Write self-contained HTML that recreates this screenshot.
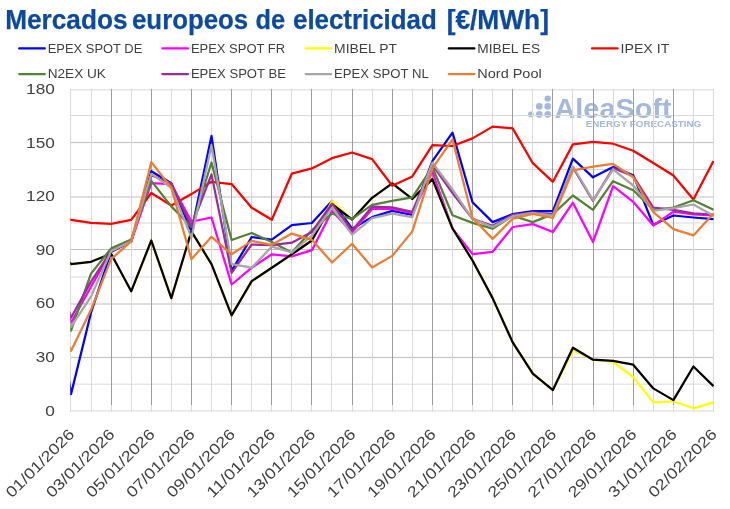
<!DOCTYPE html>
<html lang="es"><head><meta charset="utf-8"><title>Mercados europeos de electricidad</title>
<style>html,body{margin:0;padding:0;background:#fff}body{width:730px;height:509px;overflow:hidden}svg{display:block}text{font-family:"Liberation Sans",sans-serif}</style></head><body>
<svg width="730" height="509" viewBox="0 0 730 509">
<rect width="730" height="509" fill="#fff"/>
<g id="title" font-size="27.2" font-weight="bold" fill="#0c4aa0" stroke="#0c4aa0" stroke-width="0.25">
<text x="5.15" y="28.8" textLength="122.37" lengthAdjust="spacingAndGlyphs">Mercados</text>
<text x="132.02" y="28.8" textLength="116.18" lengthAdjust="spacingAndGlyphs">europeos</text>
<text x="255.43" y="28.8" textLength="29.62" lengthAdjust="spacingAndGlyphs">de</text>
<text x="293.02" y="28.8" textLength="143.8" lengthAdjust="spacingAndGlyphs">electricidad</text>
<text x="446.64" y="28.8" textLength="102.35" lengthAdjust="spacingAndGlyphs">[€/MWh]</text>
</g>
<g id="wm" fill="#a3b8da">
<circle cx="547.7" cy="98.6" r="3.2"/>
<circle cx="539.3" cy="106.4" r="3.3"/>
<circle cx="547.7" cy="106.4" r="3.3"/>
<circle cx="530.9" cy="114.4" r="2.9"/>
<circle cx="539.3" cy="114.4" r="3.3"/>
<circle cx="547.7" cy="114.4" r="3.3"/>
<text id="wm1" x="554.5" y="117.8" font-size="27.4" font-weight="bold" textLength="117" lengthAdjust="spacingAndGlyphs">AleaSoft</text>
<text id="wm2" x="585.7" y="127.3" font-size="9" font-weight="bold" textLength="115.6" lengthAdjust="spacingAndGlyphs">ENERGY FORECASTING</text>
</g>
<g id="grid" stroke-width="1"><line x1="70.0" x2="714.0" y1="410.95" y2="410.95" stroke="#d9d9d9"/><line x1="70.0" x2="714.0" y1="384.16" y2="384.16" stroke="#d9d9d9"/><line x1="70.0" x2="714.0" y1="357.4" y2="357.4" stroke="#bcbcbc"/><line x1="70.0" x2="714.0" y1="330.57" y2="330.57" stroke="#d9d9d9"/><line x1="70.0" x2="714.0" y1="304.0" y2="304.0" stroke="#bcbcbc"/><line x1="70.0" x2="714.0" y1="276.98" y2="276.98" stroke="#d9d9d9"/><line x1="70.0" x2="714.0" y1="249.5" y2="249.5" stroke="#bcbcbc"/><line x1="70.0" x2="714.0" y1="223.0" y2="223.0" stroke="#d9d9d9"/><line x1="70.0" x2="714.0" y1="197.0" y2="197.0" stroke="#bcbcbc"/><line x1="70.0" x2="714.0" y1="169.5" y2="169.5" stroke="#d9d9d9"/><line x1="70.0" x2="714.0" y1="142.6" y2="142.6" stroke="#bcbcbc"/><line x1="70.0" x2="714.0" y1="115.5" y2="115.5" stroke="#d9d9d9"/><line x1="70.0" x2="714.0" y1="89.85" y2="89.85" stroke="#d9d9d9"/><line x1="70.5" x2="70.5" y1="88.92" y2="411.45" stroke="#d9d9d9"/><line x1="91.5" x2="91.5" y1="88.92" y2="411.45" stroke="#d9d9d9"/><line x1="111.5" x2="111.5" y1="88.92" y2="405" stroke="#9c9c9c"/><line x1="111.5" x2="111.5" y1="405" y2="411.45" stroke="#d9d9d9"/><line x1="131.5" x2="131.5" y1="88.92" y2="411.45" stroke="#d9d9d9"/><line x1="151.5" x2="151.5" y1="88.92" y2="405" stroke="#9c9c9c"/><line x1="151.5" x2="151.5" y1="405" y2="411.45" stroke="#d9d9d9"/><line x1="171.5" x2="171.5" y1="88.92" y2="411.45" stroke="#d9d9d9"/><line x1="191.5" x2="191.5" y1="88.92" y2="405" stroke="#9c9c9c"/><line x1="191.5" x2="191.5" y1="405" y2="411.45" stroke="#d9d9d9"/><line x1="211.5" x2="211.5" y1="88.92" y2="411.45" stroke="#d9d9d9"/><line x1="231.5" x2="231.5" y1="88.92" y2="405" stroke="#9c9c9c"/><line x1="231.5" x2="231.5" y1="405" y2="411.45" stroke="#d9d9d9"/><line x1="251.5" x2="251.5" y1="88.92" y2="411.45" stroke="#d9d9d9"/><line x1="271.5" x2="271.5" y1="88.92" y2="405" stroke="#9c9c9c"/><line x1="271.5" x2="271.5" y1="405" y2="411.45" stroke="#d9d9d9"/><line x1="291.5" x2="291.5" y1="88.92" y2="411.45" stroke="#d9d9d9"/><line x1="311.5" x2="311.5" y1="88.92" y2="405" stroke="#9c9c9c"/><line x1="311.5" x2="311.5" y1="405" y2="411.45" stroke="#d9d9d9"/><line x1="331.5" x2="331.5" y1="88.92" y2="411.45" stroke="#d9d9d9"/><line x1="352.5" x2="352.5" y1="88.92" y2="405" stroke="#9c9c9c"/><line x1="352.5" x2="352.5" y1="405" y2="411.45" stroke="#d9d9d9"/><line x1="372.5" x2="372.5" y1="88.92" y2="411.45" stroke="#d9d9d9"/><line x1="392.5" x2="392.5" y1="88.92" y2="405" stroke="#9c9c9c"/><line x1="392.5" x2="392.5" y1="405" y2="411.45" stroke="#d9d9d9"/><line x1="412.5" x2="412.5" y1="88.92" y2="411.45" stroke="#d9d9d9"/><line x1="432.5" x2="432.5" y1="88.92" y2="405" stroke="#9c9c9c"/><line x1="432.5" x2="432.5" y1="405" y2="411.45" stroke="#d9d9d9"/><line x1="452.5" x2="452.5" y1="88.92" y2="411.45" stroke="#d9d9d9"/><line x1="472.5" x2="472.5" y1="88.92" y2="405" stroke="#9c9c9c"/><line x1="472.5" x2="472.5" y1="405" y2="411.45" stroke="#d9d9d9"/><line x1="492.5" x2="492.5" y1="88.92" y2="411.45" stroke="#d9d9d9"/><line x1="512.5" x2="512.5" y1="88.92" y2="405" stroke="#9c9c9c"/><line x1="512.5" x2="512.5" y1="405" y2="411.45" stroke="#d9d9d9"/><line x1="532.5" x2="532.5" y1="88.92" y2="411.45" stroke="#d9d9d9"/><line x1="552.5" x2="552.5" y1="88.92" y2="405" stroke="#9c9c9c"/><line x1="552.5" x2="552.5" y1="405" y2="411.45" stroke="#d9d9d9"/><line x1="572.5" x2="572.5" y1="88.92" y2="411.45" stroke="#d9d9d9"/><line x1="593.5" x2="593.5" y1="88.92" y2="405" stroke="#9c9c9c"/><line x1="593.5" x2="593.5" y1="405" y2="411.45" stroke="#d9d9d9"/><line x1="613.5" x2="613.5" y1="88.92" y2="411.45" stroke="#d9d9d9"/><line x1="633.5" x2="633.5" y1="88.92" y2="405" stroke="#9c9c9c"/><line x1="633.5" x2="633.5" y1="405" y2="411.45" stroke="#d9d9d9"/><line x1="653.5" x2="653.5" y1="88.92" y2="411.45" stroke="#d9d9d9"/><line x1="673.5" x2="673.5" y1="88.92" y2="405" stroke="#9c9c9c"/><line x1="673.5" x2="673.5" y1="405" y2="411.45" stroke="#d9d9d9"/><line x1="693.5" x2="693.5" y1="88.92" y2="411.45" stroke="#d9d9d9"/><line x1="713.5" x2="713.5" y1="88.92" y2="411.45" stroke="#d9d9d9"/></g>
<defs><clipPath id="pc"><rect x="70.25" y="60" width="643.85" height="380"/></clipPath></defs>
<g id="series" fill="none" stroke-width="2.25" stroke-linejoin="round" stroke-linecap="butt" clip-path="url(#pc)">
<polyline stroke="#0000ff" points="50.9,259.1 71.0,394.2 91.0,312.7 111.1,252.0 131.2,241.3 151.3,171.2 171.3,183.2 191.4,231.4 211.5,135.9 231.6,270.9 251.7,237.0 271.8,239.6 291.8,225.2 311.9,223.0 332.0,200.9 352.1,228.7 372.1,217.1 392.2,210.9 412.3,214.8 432.4,161.2 452.5,132.6 472.5,202.3 492.6,222.1 512.7,214.1 532.8,211.2 552.9,211.2 572.9,158.7 593.0,177.3 613.1,166.9 633.2,175.2 653.3,224.8 673.4,215.5 693.4,217.5 713.5,219.1"/>
<polyline stroke="#ff00ff" points="50.9,253.8 71.0,322.7 91.0,286.8 111.1,251.1 131.2,241.3 151.3,183.2 171.3,184.1 191.4,221.6 211.5,217.5 231.6,284.5 251.7,267.7 271.8,254.3 291.8,256.4 311.9,250.2 332.0,210.9 352.1,232.3 372.1,208.9 392.2,208.9 412.3,212.9 432.4,171.8 452.5,228.7 472.5,254.1 492.6,251.8 512.7,227.0 532.8,224.1 552.9,232.0 572.9,202.7 593.0,242.0 613.1,186.2 633.2,201.8 653.3,225.5 673.4,211.6 693.4,214.5 713.5,215.5"/>
<polyline stroke="#ffff00" points="50.9,241.3 71.0,264.1 91.0,261.8 111.1,253.8 131.2,291.3 151.3,240.5 171.3,298.1 191.4,231.4 211.5,264.1 231.6,315.4 251.7,281.1 271.8,267.7 291.8,254.3 311.9,240.5 332.0,201.1 352.1,219.5 372.1,197.8 392.2,183.4 412.3,198.9 432.4,179.1 452.5,228.4 472.5,260.5 492.6,298.1 512.7,342.4 532.8,373.6 552.9,390.1 572.9,350.2 593.0,359.7 613.1,362.0 633.2,377.0 653.3,402.4 673.4,401.3 693.4,408.3 713.5,402.4"/>
<polyline stroke="#000000" points="50.9,241.3 71.0,264.1 91.0,261.8 111.1,253.8 131.2,291.3 151.3,240.5 171.3,298.1 191.4,231.4 211.5,264.1 231.6,315.4 251.7,281.1 271.8,267.7 291.8,254.3 311.9,240.5 332.0,204.1 352.1,219.5 372.1,197.8 392.2,183.4 412.3,198.9 432.4,179.1 452.5,228.4 472.5,260.5 492.6,298.1 512.7,342.4 532.8,373.6 552.9,390.1 572.9,347.7 593.0,359.7 613.1,360.8 633.2,364.7 653.3,388.4 673.4,400.1 693.4,366.5 713.5,386.1"/>
<polyline stroke="#ff0000" points="50.9,210.9 71.0,219.8 91.0,222.9 111.1,223.9 131.2,219.8 151.3,193.0 171.3,205.5 191.4,194.1 211.5,181.8 231.6,184.1 251.7,207.7 271.8,219.8 291.8,173.7 311.9,168.4 332.0,158.2 352.1,152.5 372.1,159.1 392.2,185.7 412.3,176.4 432.4,145.2 452.5,146.0 472.5,138.4 492.6,126.6 512.7,128.4 532.8,163.2 552.9,181.8 572.9,144.4 593.0,141.9 613.1,143.7 633.2,150.7 653.3,163.0 673.4,175.5 693.4,199.5 713.5,161.0"/>
<polyline stroke="#548235" points="50.9,259.1 71.0,330.6 91.0,273.6 111.1,248.4 131.2,239.5 151.3,180.9 171.3,206.4 191.4,227.0 211.5,162.5 231.6,240.0 251.7,233.0 271.8,242.0 291.8,252.5 311.9,230.2 332.0,213.6 352.1,218.9 372.1,204.8 392.2,200.9 412.3,197.3 432.4,167.1 452.5,215.2 472.5,222.9 492.6,228.7 512.7,215.7 532.8,222.1 552.9,214.1 572.9,195.5 593.0,209.8 613.1,181.2 633.2,190.2 653.3,209.8 673.4,207.5 693.4,200.2 713.5,209.8"/>
<polyline stroke="#9b2d9b" points="50.9,250.2 71.0,317.7 91.0,281.6 111.1,251.1 131.2,241.3 151.3,175.2 171.3,183.2 191.4,226.6 211.5,174.4 231.6,272.9 251.7,244.5 271.8,245.2 291.8,242.7 311.9,232.0 332.0,203.7 352.1,230.5 372.1,206.6 392.2,207.3 412.3,211.8 432.4,164.8 452.5,193.0 472.5,218.7 492.6,225.7 512.7,214.8 532.8,212.5 552.9,214.1 572.9,167.5 593.0,200.9 613.1,168.0 633.2,176.2 653.3,207.5 673.4,209.8 693.4,213.4 713.5,214.5"/>
<polyline stroke="#a6a6a6" points="50.9,253.8 71.0,326.8 91.0,296.6 111.1,251.1 131.2,241.3 151.3,173.9 171.3,187.7 191.4,237.7 211.5,145.2 231.6,264.1 251.7,267.7 271.8,246.6 291.8,252.5 311.9,235.5 332.0,207.7 352.1,234.6 372.1,218.2 392.2,213.6 412.3,217.1 432.4,162.7 452.5,189.5 472.5,219.1 492.6,227.0 512.7,216.2 532.8,212.9 552.9,215.7 572.9,166.2 593.0,200.3 613.1,169.3 633.2,185.5 653.3,210.9 673.4,208.2 693.4,204.5 713.5,215.7"/>
<polyline stroke="#ed7d31" points="50.9,300.2 71.0,350.9 91.0,309.8 111.1,259.1 131.2,241.3 151.3,162.1 171.3,187.7 191.4,259.3 211.5,236.8 231.6,254.3 251.7,240.9 271.8,244.8 291.8,233.6 311.9,239.8 332.0,262.5 352.1,243.8 372.1,267.5 392.2,255.9 412.3,231.4 432.4,168.4 452.5,139.4 472.5,218.0 492.6,238.9 512.7,218.7 532.8,213.9 552.9,218.0 572.9,170.3 593.0,166.6 613.1,163.9 633.2,177.3 653.3,212.1 673.4,229.1 693.4,235.4 713.5,213.4"/>
</g>
<g id="legend" font-size="13.7" fill="#404040" stroke-linecap="round">
<line x1="19.2" x2="44.8" y1="48.4" y2="48.4" stroke="#0000ff" stroke-width="2.2"/>
<text x="47.7" y="53.0" textLength="94.6" lengthAdjust="spacingAndGlyphs">EPEX SPOT DE</text>
<line x1="162.4" x2="188.0" y1="48.4" y2="48.4" stroke="#ff00ff" stroke-width="2.2"/>
<text x="190.9" y="53.0" textLength="94.2" lengthAdjust="spacingAndGlyphs">EPEX SPOT FR</text>
<line x1="305.6" x2="331.2" y1="48.4" y2="48.4" stroke="#ffff00" stroke-width="2.2"/>
<text x="334.1" y="53.0" textLength="62.8" lengthAdjust="spacingAndGlyphs">MIBEL PT</text>
<line x1="448.8" x2="474.4" y1="48.4" y2="48.4" stroke="#000000" stroke-width="2.2"/>
<text x="477.3" y="53.0" textLength="62.8" lengthAdjust="spacingAndGlyphs">MIBEL ES</text>
<line x1="592.0" x2="617.6" y1="48.4" y2="48.4" stroke="#ff0000" stroke-width="2.2"/>
<text x="620.5" y="53.0" textLength="48.8" lengthAdjust="spacingAndGlyphs">IPEX IT</text>
<line x1="19.2" x2="44.8" y1="74.1" y2="74.1" stroke="#548235" stroke-width="2.2"/>
<text x="47.7" y="77.9" textLength="58.2" lengthAdjust="spacingAndGlyphs">N2EX UK</text>
<line x1="162.4" x2="188.0" y1="74.1" y2="74.1" stroke="#9b2d9b" stroke-width="2.2"/>
<text x="190.9" y="77.9" textLength="95" lengthAdjust="spacingAndGlyphs">EPEX SPOT BE</text>
<line x1="305.6" x2="331.2" y1="74.1" y2="74.1" stroke="#a6a6a6" stroke-width="2.2"/>
<text x="334.1" y="77.9" textLength="94.6" lengthAdjust="spacingAndGlyphs">EPEX SPOT NL</text>
<line x1="448.8" x2="474.4" y1="74.1" y2="74.1" stroke="#ed7d31" stroke-width="2.2"/>
<text x="477.3" y="77.9" textLength="64.4" lengthAdjust="spacingAndGlyphs">Nord Pool</text>
</g>
<g id="ylab" font-size="15.3" fill="#404040" text-anchor="end">
<text x="54.8" y="415.6" textLength="9.6" lengthAdjust="spacingAndGlyphs">0</text>
<text x="54.8" y="362.0" textLength="19.1" lengthAdjust="spacingAndGlyphs">30</text>
<text x="54.8" y="308.4" textLength="19.1" lengthAdjust="spacingAndGlyphs">60</text>
<text x="54.8" y="254.8" textLength="19.1" lengthAdjust="spacingAndGlyphs">90</text>
<text x="54.8" y="201.2" textLength="28.7" lengthAdjust="spacingAndGlyphs">120</text>
<text x="54.8" y="147.6" textLength="28.7" lengthAdjust="spacingAndGlyphs">150</text>
<text x="54.8" y="94.0" textLength="28.7" lengthAdjust="spacingAndGlyphs">180</text>
</g>
<g id="xlab" font-size="15.3" fill="#404040" text-anchor="end">
<text transform="translate(75.4,435.1) rotate(-45)" textLength="89.6" lengthAdjust="spacingAndGlyphs">01/01/2026</text>
<text transform="translate(115.5,435.1) rotate(-45)" textLength="89.6" lengthAdjust="spacingAndGlyphs">03/01/2026</text>
<text transform="translate(155.7,435.1) rotate(-45)" textLength="89.6" lengthAdjust="spacingAndGlyphs">05/01/2026</text>
<text transform="translate(195.8,435.1) rotate(-45)" textLength="89.6" lengthAdjust="spacingAndGlyphs">07/01/2026</text>
<text transform="translate(236.0,435.1) rotate(-45)" textLength="89.6" lengthAdjust="spacingAndGlyphs">09/01/2026</text>
<text transform="translate(276.1,435.1) rotate(-45)" textLength="89.6" lengthAdjust="spacingAndGlyphs">11/01/2026</text>
<text transform="translate(316.3,435.1) rotate(-45)" textLength="89.6" lengthAdjust="spacingAndGlyphs">13/01/2026</text>
<text transform="translate(356.5,435.1) rotate(-45)" textLength="89.6" lengthAdjust="spacingAndGlyphs">15/01/2026</text>
<text transform="translate(396.6,435.1) rotate(-45)" textLength="89.6" lengthAdjust="spacingAndGlyphs">17/01/2026</text>
<text transform="translate(436.8,435.1) rotate(-45)" textLength="89.6" lengthAdjust="spacingAndGlyphs">19/01/2026</text>
<text transform="translate(476.9,435.1) rotate(-45)" textLength="89.6" lengthAdjust="spacingAndGlyphs">21/01/2026</text>
<text transform="translate(517.1,435.1) rotate(-45)" textLength="89.6" lengthAdjust="spacingAndGlyphs">23/01/2026</text>
<text transform="translate(557.3,435.1) rotate(-45)" textLength="89.6" lengthAdjust="spacingAndGlyphs">25/01/2026</text>
<text transform="translate(597.4,435.1) rotate(-45)" textLength="89.6" lengthAdjust="spacingAndGlyphs">27/01/2026</text>
<text transform="translate(637.6,435.1) rotate(-45)" textLength="89.6" lengthAdjust="spacingAndGlyphs">29/01/2026</text>
<text transform="translate(677.8,435.1) rotate(-45)" textLength="89.6" lengthAdjust="spacingAndGlyphs">31/01/2026</text>
<text transform="translate(717.9,435.1) rotate(-45)" textLength="89.6" lengthAdjust="spacingAndGlyphs">02/02/2026</text>
</g>
</svg></body></html>
